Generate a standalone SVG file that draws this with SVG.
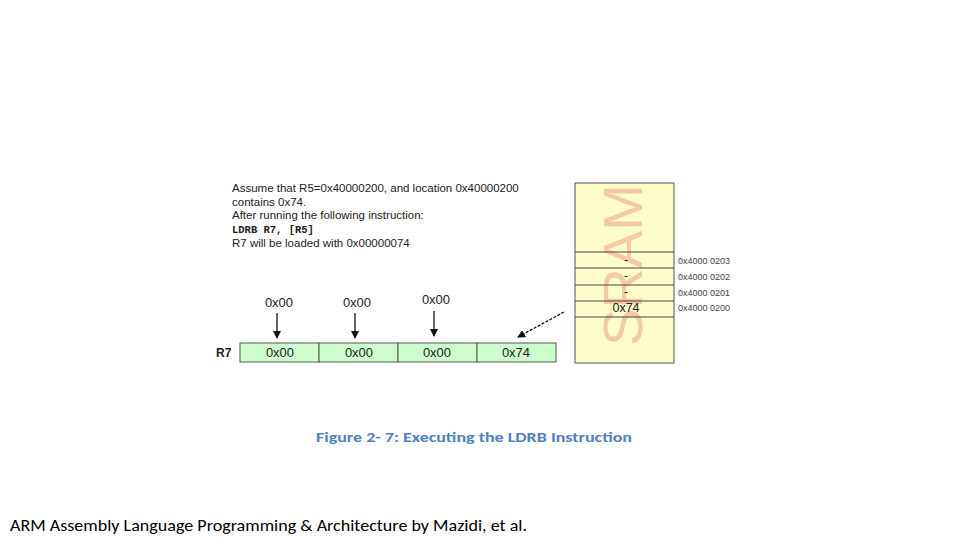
<svg xmlns="http://www.w3.org/2000/svg" width="960" height="540" viewBox="0 0 960 540">
<style>
.t{font-family:"Liberation Sans",Arial,sans-serif;fill:#222}
.m{font-family:"Liberation Mono","Courier New",monospace;font-weight:bold;fill:#222}
.a{font-family:"Liberation Sans",Arial,sans-serif;font-size:9px;fill:#444}
.c{fill:#ccffcc;stroke:#555;stroke-width:1}
.l{stroke:#444;stroke-width:1}
</style>
<defs><marker id="ah" markerWidth="8" markerHeight="8" refX="7" refY="4" orient="auto" markerUnits="userSpaceOnUse"><path d="M0,0L8,4L0,8z" fill="#111"/></marker></defs>
<rect width="960" height="540" fill="#fff"/>
<g id="caption">
<text class="t" x="232" y="192" font-size="11.5">Assume that R5=0x40000200, and location 0x40000200</text>
<text class="t" x="232" y="206" font-size="11.5">contains 0x74.</text>
<text class="t" x="232" y="219" font-size="11.5">After running the following instruction:</text>
<text class="m" x="232" y="233" font-size="10.5">LDRB R7, [R5]</text>
<text class="t" x="232" y="247" font-size="11.5">R7 will be loaded with 0x00000074</text>
</g>
<g id="sram">
<rect x="575" y="183" width="99" height="180" fill="#fefcc8" stroke="#555"/>
<text x="0" y="20" font-size="56" fill="#f6c9a6" text-anchor="middle" font-family="Liberation Sans,Arial,sans-serif" transform="translate(622 265) rotate(-90)">SRAM</text>
<g class="l"><line x1="575" y1="252" x2="674" y2="252"/><line x1="575" y1="268" x2="674" y2="268"/><line x1="575" y1="285" x2="674" y2="285"/><line x1="575" y1="301" x2="674" y2="301"/><line x1="575" y1="317" x2="674" y2="317"/></g>
<text class="t" x="626" y="264" font-size="12" text-anchor="middle">-</text>
<text class="t" x="626" y="280" font-size="12" text-anchor="middle">-</text>
<text class="t" x="626" y="296" font-size="12" text-anchor="middle">-</text>
<text class="t" x="626" y="312" font-size="12.5" text-anchor="middle">0x74</text>
<text class="a" x="678" y="264">0x4000 0203</text>
<text class="a" x="678" y="280">0x4000 0202</text>
<text class="a" x="678" y="296">0x4000 0201</text>
<text class="a" x="678" y="311">0x4000 0200</text>
</g>
<g id="r7">
<text class="t" x="216" y="357" font-size="12" font-weight="bold">R7</text>
<rect class="c" x="240" y="343" width="79" height="19"/>
<rect class="c" x="319" y="343" width="79" height="19"/>
<rect class="c" x="398" y="343" width="79" height="19"/>
<rect class="c" x="477" y="343" width="79" height="19"/>
<text class="t" x="280" y="357" font-size="13" text-anchor="middle">0x00</text>
<text class="t" x="359" y="357" font-size="13" text-anchor="middle">0x00</text>
<text class="t" x="437" y="357" font-size="13" text-anchor="middle">0x00</text>
<text class="t" x="516" y="357" font-size="13" text-anchor="middle">0x74</text>
<text class="t" x="279" y="307" font-size="13" text-anchor="middle">0x00</text>
<text class="t" x="357" y="307" font-size="13" text-anchor="middle">0x00</text>
<text class="t" x="436" y="304" font-size="13" text-anchor="middle">0x00</text>
</g>
<g id="connectors" stroke="#111" stroke-width="1.3" marker-end="url(#ah)">
<line x1="277" y1="313" x2="277" y2="338"/>
<line x1="355" y1="313" x2="355" y2="338"/>
<line x1="434" y1="311" x2="434" y2="336"/>
<line x1="564" y1="312" x2="518" y2="337" stroke-dasharray="3,1.5"/>
</g>
<text x="316" y="442" font-size="14" fill="#4f81bd" font-weight="bold" textLength="316" lengthAdjust="spacingAndGlyphs" font-family="Calibri,Carlito,'Liberation Sans',sans-serif">Figure 2- 7: Executing the LDRB Instruction</text>
<text x="10" y="531" font-size="16" fill="#000" textLength="517" lengthAdjust="spacingAndGlyphs" font-family="Calibri,Carlito,'Open Sans','Liberation Sans',sans-serif">ARM Assembly Language Programming &amp; Architecture by Mazidi, et al.</text>
</svg>
